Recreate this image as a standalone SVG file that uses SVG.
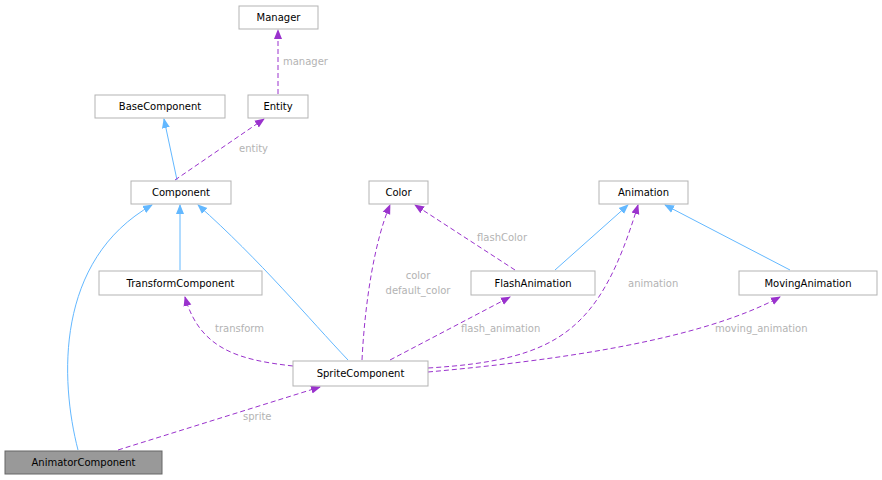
<svg xmlns="http://www.w3.org/2000/svg" width="882" height="480" viewBox="0 0 882 480">
<style>
.n rect{fill:#fff;stroke:#b3b3b3;stroke-width:1}
.n text{font-family:"DejaVu Sans",sans-serif;font-size:10px;fill:#000;text-anchor:middle}
.b{fill:none;stroke:#63b8ff;stroke-width:1}
.p{fill:none;stroke:#9a32cd;stroke-width:1;stroke-dasharray:5,3}
.l{font-family:"DejaVu Sans",sans-serif;font-size:10px;fill:#b3b3b3}
</style>
<defs>
<marker id="ab" markerWidth="10" markerHeight="10" refX="9" refY="5" orient="auto" markerUnits="userSpaceOnUse"><path d="M0,1 L10,5 L0,9 Z" fill="#63b8ff"/></marker>
<marker id="ap" markerWidth="10" markerHeight="10" refX="9" refY="5" orient="auto" markerUnits="userSpaceOnUse"><path d="M0,1 L10,5 L0,9 Z" fill="#9a32cd"/></marker>
</defs>
<rect width="882" height="480" fill="#fff"/>
<g id="connectors">
<path class="b" d="M177,180 L164,119" marker-end="url(#ab)"/>
<path class="p" d="M175,180 L264,119" marker-end="url(#ap)"/>
<path class="p" d="M278,94 L278,30" marker-end="url(#ap)"/>
<path class="b" d="M180,270 L180,205" marker-end="url(#ab)"/>
<path class="b" d="M78,450 C60,380 55,260 152,205" marker-end="url(#ab)"/>
<path class="b" d="M348,360 C310,320 260,260 198,205" marker-end="url(#ab)"/>
<path class="p" d="M293,366 C240,360 200,350 185,297" marker-end="url(#ap)"/>
<path class="p" d="M362,360 C365,300 375,240 390,205" marker-end="url(#ap)"/>
<path class="p" d="M390,360 L510,297" marker-end="url(#ap)"/>
<path class="p" d="M515,270 L415,205" marker-end="url(#ap)"/>
<path class="b" d="M555,270 L628,205" marker-end="url(#ab)"/>
<path class="b" d="M790,270 L665,205" marker-end="url(#ab)"/>
<path class="p" d="M428,368 C560,360 600,330 638,205" marker-end="url(#ap)"/>
<path class="p" d="M428,372 C560,360 700,340 780,297" marker-end="url(#ap)"/>
<path class="p" d="M118,450 L320,387" marker-end="url(#ap)"/>
<text class="l" x="283" y="65">manager</text>
<text class="l" x="239" y="152">entity</text>
<text class="l" x="215" y="332">transform</text>
<text class="l" x="418" y="279" text-anchor="middle">color</text>
<text class="l" x="418" y="294" text-anchor="middle">default_color</text>
<text class="l" x="477" y="241">flashColor</text>
<text class="l" x="461" y="332">flash_animation</text>
<text class="l" x="628" y="287">animation</text>
<text class="l" x="715" y="332">moving_animation</text>
<text class="l" x="243" y="420">sprite</text>
</g>
<g id="Manager" class="n"><rect x="239" y="6" width="79" height="23"/><text x="278.5" y="21">Manager</text></g>
<g id="BaseComponent" class="n"><rect x="95" y="95" width="130" height="23"/><text x="160" y="110">BaseComponent</text></g>
<g id="Entity" class="n"><rect x="248" y="95" width="60" height="23"/><text x="278" y="110">Entity</text></g>
<g id="Component" class="n"><rect x="131" y="181" width="100" height="23"/><text x="181" y="196">Component</text></g>
<g id="Color" class="n"><rect x="369" y="181" width="59" height="23"/><text x="398.5" y="196">Color</text></g>
<g id="Animation" class="n"><rect x="599" y="181" width="89" height="23"/><text x="643.5" y="196">Animation</text></g>
<g id="TransformComponent" class="n"><rect x="99" y="271" width="163" height="24"/><text x="180.5" y="287">TransformComponent</text></g>
<g id="FlashAnimation" class="n"><rect x="471" y="271" width="124" height="24"/><text x="533" y="287">FlashAnimation</text></g>
<g id="MovingAnimation" class="n"><rect x="739" y="271" width="138" height="24"/><text x="808" y="287">MovingAnimation</text></g>
<g id="SpriteComponent" class="n"><rect x="293" y="361" width="135" height="25"/><text x="360.5" y="377">SpriteComponent</text></g>
<g id="AnimatorComponent" class="n"><rect x="5" y="451" width="157" height="23" style="fill:#999;stroke:#666"/><text x="83.5" y="466">AnimatorComponent</text></g>
</svg>
